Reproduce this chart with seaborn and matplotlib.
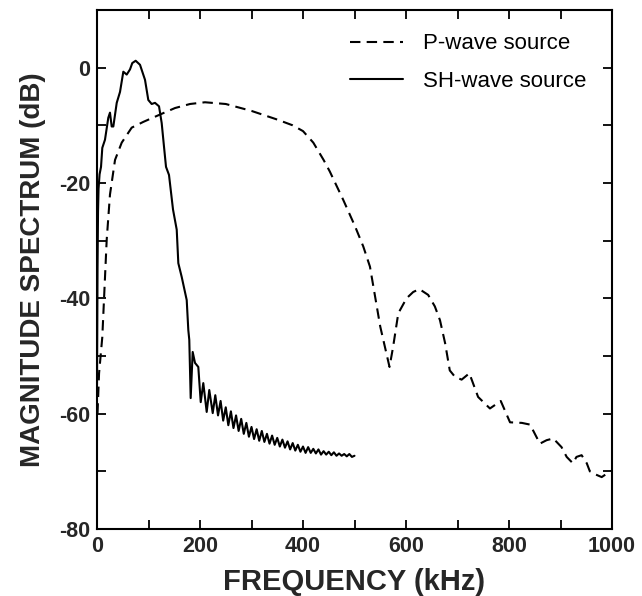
import matplotlib
matplotlib.use("Agg")
import matplotlib.pyplot as plt
import seaborn as sns
import pandas as pd
from matplotlib.ticker import MultipleLocator

# ---------------- data ----------------
sh_freq = [0, 1, 2, 3, 5, 7.8, 10.3, 15.5, 21.9, 25.2, 28.5, 31.7, 38.3, 44.7, 51.1,
           57.7, 64.1, 68.5, 75.1, 83.5, 93.2, 99.6, 106.2, 112.6, 120.4, 125.6,
           130.1, 134, 139.8, 147.6, 154.8, 157.9, 164.5, 174.2, 177.3, 179.2,
           181.9, 185.8, 190.3, 196.7, 201.4, 206.4, 213, 218, 224.7, 229.7,
           235, 240, 245, 250, 255, 260, 265, 270, 275, 280, 285, 290, 295, 300,
           305, 310, 315, 320, 325, 330, 335, 340, 345, 350, 355, 360, 365, 370,
           375, 380, 385, 390, 395, 400, 405, 410, 415, 420, 425, 430, 435, 440,
           445, 450, 455, 460, 465, 470, 475, 480, 485, 490, 495, 500]
sh_db = [-55, -35, -25, -21, -18.5, -17.2, -13.9, -12.5, -8.7, -7.8, -10.2, -10.2,
         -6.1, -4.2, -0.7, -1.2, -0.3, 0.8, 1.2, 0.5, -2.1, -5.6, -6.3, -6.1, -6.7,
         -9.6, -13.7, -17.2, -18.6, -24.6, -28.1, -33.9, -36.3, -40.3, -45.5, -47.2,
         -57.3, -49.3, -51.2, -51.9, -58.0, -54.7, -59.7, -55.9, -59.9, -56.8,
         -60.3, -57.8, -61.2, -58.9, -62.0, -59.6, -62.5, -60.3, -63.0, -60.9,
         -63.5, -61.6, -64.0, -62.3, -64.4, -62.7, -64.7, -63.0, -64.9, -63.5,
         -65.2, -63.8, -65.4, -64.2, -65.7, -64.5, -65.9, -64.8, -66.2, -65.1,
         -66.4, -65.4, -66.6, -65.7, -66.8, -65.8, -66.8, -66.1, -66.9, -66.2,
         -67.1, -66.5, -67.1, -66.6, -67.2, -66.7, -67.3, -66.9, -67.3, -67.0,
         -67.4, -67.0, -67.5, -67.3]

p_freq = [1, 4, 10.3, 14.2, 18.8, 25.2, 35, 48, 67.4, 90, 125.6, 151.5, 180.6,
          209.7, 250, 300, 350, 380, 400, 420, 440, 452, 478, 501, 517, 530, 540,
          550, 559, 568, 575, 585, 601, 614, 626, 643, 656, 666, 676, 685, 695,
          708, 723, 740, 763, 784, 802, 825, 841, 860, 873, 886, 902, 912, 924,
          931, 941, 951, 957, 967, 980, 990, 998]
p_db = [-60, -53, -46.7, -39, -29.9, -22, -16, -13, -10.4, -9.4, -8.0, -7.0, -6.3,
        -6.0, -6.3, -7.5, -9.0, -10.0, -11.0, -13.0, -16.0, -18.0, -22.9, -27.5,
        -31.0, -34.5, -39.7, -44.9, -48.4, -51.9, -48.4, -42.6, -40.0, -38.9,
        -38.4, -39.4, -41.4, -43.8, -47.8, -52.5, -53.6, -54.1, -53.0, -57.1,
        -59.1, -57.8, -61.5, -61.6, -61.9, -65.2, -64.6, -64.3, -65.8, -67.5,
        -68.6, -67.5, -67.2, -68.6, -70.0, -70.5, -71.0, -70.4, -69.9]

series_labels = ["P-wave source", "SH-wave source"]
x_ticks = [0, 200, 400, 600, 800, 1000]
y_ticks = [-80, -60, -40, -20, 0]

# ---------------- plot ----------------
sns.set_theme(style="ticks")
plt.rcParams["font.family"] = ["Liberation Sans", "DejaVu Sans"]
plt.rcParams["axes.unicode_minus"] = False

fig = plt.figure(figsize=(6.42, 5.96), dpi=100)
ax = fig.add_axes([97 / 642, 1 - 529 / 596, (612 - 97) / 642, (529 - 10) / 596])

p_df = pd.DataFrame({"freq": p_freq, "db": p_db})
sh_df = pd.DataFrame({"freq": sh_freq, "db": sh_db})

sns.lineplot(data=p_df, x="freq", y="db", ax=ax, color="black", lw=1.5,
             linestyle=(0, (5, 3)), label=series_labels[0], sort=False)
sns.lineplot(data=sh_df, x="freq", y="db", ax=ax, color="black", lw=1.5,
             linestyle="-", label=series_labels[1], sort=False)

ax.set_xlim(0, 1000)
ax.set_ylim(-80, 10)
ax.set_xticks(x_ticks)
ax.set_yticks(y_ticks)
ax.xaxis.set_minor_locator(MultipleLocator(100))
ax.yaxis.set_minor_locator(MultipleLocator(10))
ax.tick_params(which="both", direction="in", top=True, right=True,
               length=6.5, width=1.3, color="black")
ax.tick_params(which="major", labelsize=15.5, pad=5)
for lab in ax.get_xticklabels() + ax.get_yticklabels():
    lab.set_fontweight("bold")

for sp in ax.spines.values():
    sp.set_linewidth(1.5)
    sp.set_color("black")

ax.set_xlabel("FREQUENCY (kHz)", fontsize=21, fontweight="bold", labelpad=8)
ax.set_ylabel("MAGNITUDE SPECTRUM (dB)", fontsize=20, fontweight="bold", labelpad=9)

leg = ax.legend(loc="upper left", bbox_to_anchor=((350 - 97) / 515, 0.955),
                frameon=False, fontsize=16, handlelength=2.4,
                handletextpad=0.9, labelspacing=0.73, borderpad=0, borderaxespad=0)
for t in leg.get_texts():
    t.set_color("black")

fig.savefig("out.png", dpi=100)
